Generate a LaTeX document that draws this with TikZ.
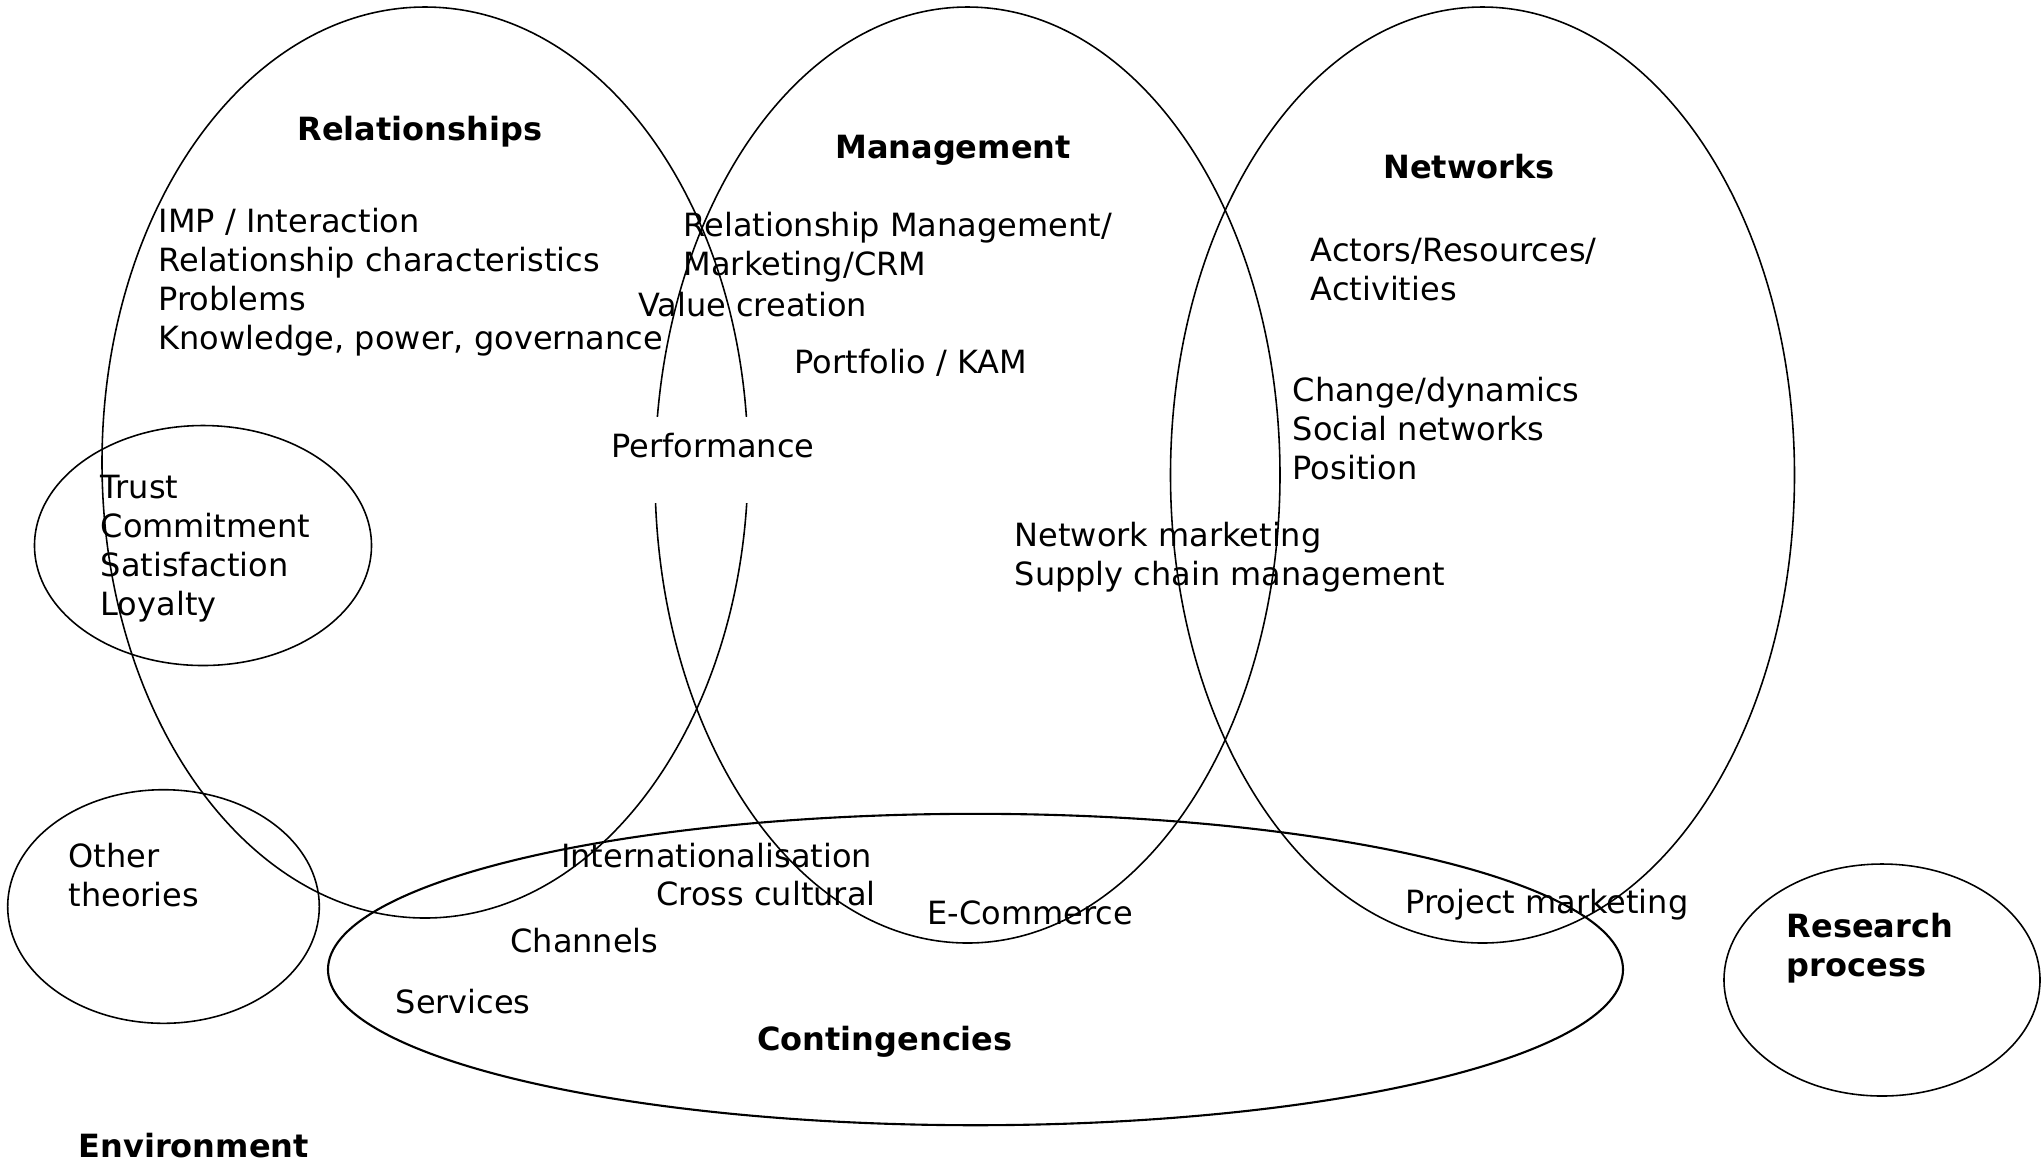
\documentclass[tikz,border=0pt]{standalone}
\usepackage{fontspec}
\setmainfont{DejaVu Sans}
\newcommand{\fieldring}[4]{\draw[line width=0.45pt] (#1,#2) ellipse[x radius=#3,y radius=#4];}

\begin{document}
\begin{tikzpicture}[x=0.01cm,y=-0.01cm,
  every node/.style={font=\fontsize{9.1}{11.1}\selectfont,inner sep=0pt,align=left}]
\useasboundingbox (0,0) rectangle (2044,1162);
% the three big fields
\fieldring{425}{462.5}{323}{455.5}
\fieldring{967.5}{475}{312.5}{468}
\fieldring{1482.5}{475}{312}{468}
% small circles
\fieldring{203}{545.5}{168.5}{120}
\fieldring{163.5}{906.5}{155.8}{116.8}
\fieldring{1882}{980}{158}{116}
\draw[line width=0.6pt] (975.5,969.5) ellipse[x radius=647.5,y radius=155.7];
% titles
\node[font=\fontsize{9.1}{11.1}\selectfont\bfseries] (rel) at (420,132) {Relationships};
\node[font=\fontsize{9.1}{11.1}\selectfont\bfseries] (mgmt) at (953,150) {Management};
\node[font=\fontsize{9.1}{11.1}\selectfont\bfseries] (net) at (1469,167) {Networks};
\node[font=\fontsize{9.1}{11.1}\selectfont\bfseries] (cont) at (885,1042) {Contingencies};
\node[font=\fontsize{9.1}{11.1}\selectfont\bfseries,anchor=west] (res) at (1786,948) {Research\\process};
\node[font=\fontsize{9.1}{11.1}\selectfont\bfseries,anchor=west] (env) at (78,1146) {Environment};
% topics
\node[anchor=west] (imp) at (158,282) {IMP / Interaction\\Relationship characteristics\\Problems\\Knowledge, power, governance};
\node[anchor=west] (rm) at (683,247) {Relationship Management/\\Marketing/CRM};
\node[anchor=west] (value) at (637.5,305) {Value creation};
\node[anchor=west] (kam) at (794,363) {Portfolio / KAM};
\node[anchor=west,fill=white,text height=0.4cm,text depth=0.46cm] (perf) at (611,460) {Performance};
\node[anchor=west] (ara) at (1310,270) {Actors/Resources/\\Activities};
\node[anchor=west] (chg) at (1292,429) {Change/dynamics\\Social networks\\Position};
\node[anchor=west] (scm) at (1014,557) {Network marketing\\Supply chain management};
\node[anchor=west] (trust) at (100,549) {Trust\\Commitment\\Satisfaction\\Loyalty};
\node[anchor=west] (other) at (68,875) {Other\\theories};
\node[anchor=west] (intl) at (560.5,855.6) {Internationalisation};
\node[anchor=west] (cross) at (655.7,893.4) {Cross cultural};
\node[anchor=west] (ecom) at (927,913) {E-Commerce};
\node[anchor=west] (chan) at (509.7,940.3) {Channels};
\node[anchor=west] (serv) at (395,1001.6) {Services};
\node[anchor=west] (proj) at (1405,905) {Project marketing};
\end{tikzpicture}
\end{document}
